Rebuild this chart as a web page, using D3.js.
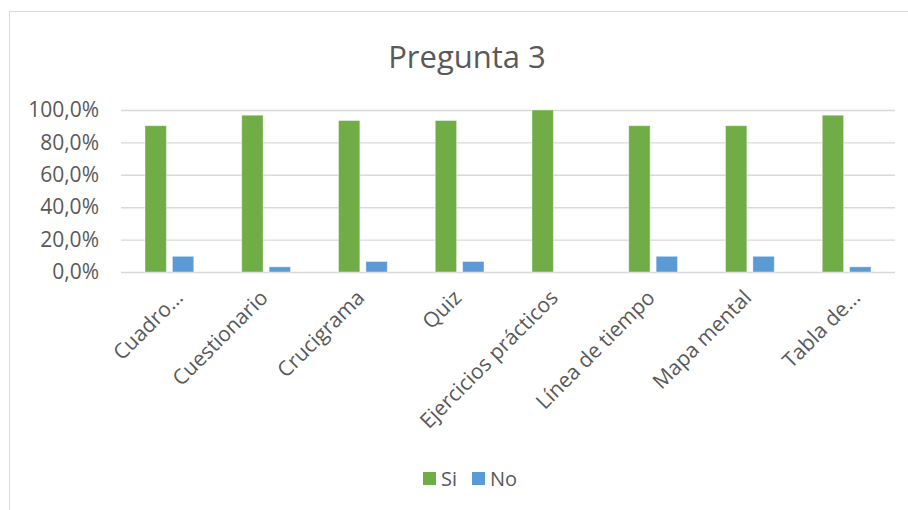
<!DOCTYPE html>
<html>
<head>
<meta charset="utf-8">
<script src="https://cdn.jsdelivr.net/npm/d3@7"></script>
<style>
  body { margin: 0; background: #fff; }
  svg { display: block; font-family: "Open Sans", sans-serif; }
</style>
</head>
<body>
<div id="chart"></div>
<script>
// Data
const categories = ['Cuadro…', 'Cuestionario', 'Crucigrama', 'Quiz', 'Ejercicios prácticos', 'Línea de tiempo', 'Mapa mental', 'Tabla de…'];
const seriesNames = ['Si', 'No'];
const siValues = [0.903, 0.968, 0.935, 0.935, 1.0, 0.903, 0.903, 0.968];
const noValues = [0.097, 0.032, 0.065, 0.065, 0.0, 0.097, 0.097, 0.032];
const yTicks = [0, 0.2, 0.4, 0.6, 0.8, 1.0];
const colors = ['#70AD47', '#5B9BD5'];

const W = 908, H = 510;
const plot = {left: 121, right: 895, top: 110, bottom: 272};

const svg = d3.select('#chart').append('svg')
    .attr('width', W)
    .attr('height', H);

// chart area border (runs off the right and bottom of the picture)
svg.append('rect')
    .attr('x', 9.5).attr('y', 11.5)
    .attr('width', 1000).attr('height', 1000)
    .attr('fill', '#fff')
    .attr('stroke', '#d9d9d9');

// title
svg.append('text')
    .attr('x', 467).attr('y', 68)
    .attr('text-anchor', 'middle')
    .attr('fill', '#595959')
    .style('font-size', '31px')
    .text('Pregunta 3');

// scales
const x0 = d3.scaleBand()
    .domain(categories)
    .range([plot.left, plot.right]);

const x1 = d3.scaleBand()
    .domain(seriesNames)
    .range([24, x0.bandwidth() - 24])
    .paddingInner(0.22);

const y = d3.scaleLinear()
    .domain([0, 1])
    .range([plot.bottom, plot.top]);

// gridlines
const grid = svg.append('g')
    .attr('transform', `translate(${plot.left},0)`)
    .call(d3.axisLeft(y).tickValues(yTicks).tickSize(-(plot.right - plot.left)).tickFormat(''));
grid.select('.domain').remove();
grid.selectAll('line').attr('stroke', '#d9d9d9').attr('stroke-width', 1.4);

// y labels
const fmt = v => d3.format('.1f')(v * 100).replace('.', ',') + '%';
const yAxis = svg.append('g')
    .attr('transform', `translate(${plot.left},0)`)
    .call(d3.axisLeft(y).tickValues(yTicks).tickSize(0).tickPadding(22).tickFormat(fmt));
yAxis.select('.domain').remove();
yAxis.selectAll('text')
    .attr('fill', '#595959')
    .style('font-size', '21px')
    .style('font-family', '"Open Sans", sans-serif');

// bars
const rows = categories.map((c, i) => ({cat: c, values: [siValues[i], noValues[i]]}));

const groups = svg.selectAll('.cat')
    .data(rows)
    .enter()
    .append('g')
    .attr('class', 'cat')
    .attr('transform', d => `translate(${x0(d.cat)},0)`);

groups.selectAll('rect')
    .data(d => d.values.map((v, j) => ({key: seriesNames[j], value: v, color: colors[j]})))
    .enter()
    .append('rect')
    .attr('x', d => x1(d.key))
    .attr('width', x1.bandwidth())
    .attr('y', d => y(d.value))
    .attr('height', d => y(0) - y(d.value))
    .attr('fill', d => d.color)
    .attr('stroke', d => d.value > 0 ? '#fff' : 'none')
    .attr('stroke-opacity', 0.5)
    .attr('stroke-width', 0.8);

// category labels (truncated ones sit a bit further right, like Excel does)
svg.append('g')
    .selectAll('text')
    .data(categories)
    .enter()
    .append('text')
    .attr('transform', d => {
        const dx = d.endsWith('…') ? 15 : 3;
        return `translate(${x0(d) + x0.bandwidth() / 2 + dx},${plot.bottom + 27}) rotate(-45)`;
    })
    .attr('text-anchor', 'end')
    .attr('fill', '#595959')
    .style('font-size', '21px')
    .text(d => d);

// legend
const legend = svg.append('g')
    .attr('transform', 'translate(423,472)');

const items = legend.selectAll('g')
    .data(seriesNames)
    .enter()
    .append('g')
    .attr('transform', (d, i) => `translate(${i * 49},0)`);

items.append('rect')
    .attr('width', 13).attr('height', 13)
    .attr('fill', (d, i) => colors[i]);

items.append('text')
    .attr('x', 18).attr('y', 13.5)
    .attr('fill', '#595959')
    .style('font-size', '20px')
    .text(d => d);
</script>
</body>
</html>
